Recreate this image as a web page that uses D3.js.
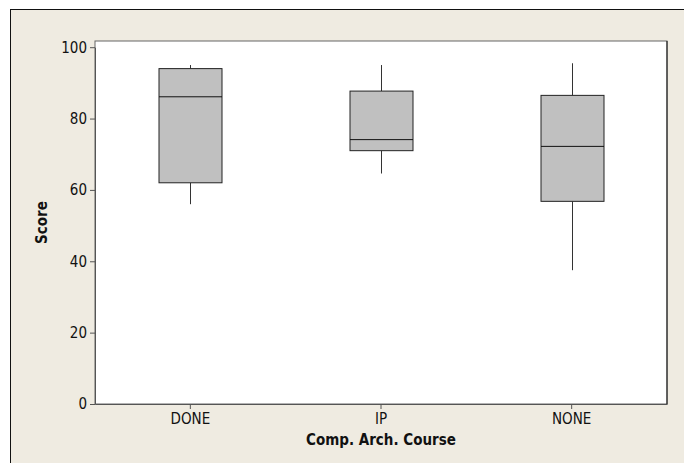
<!DOCTYPE html>
<html>
<head>
<meta charset="utf-8">
<script src="https://cdn.jsdelivr.net/npm/d3@7"></script>
<style>
  body { margin: 0; background: #fff; }
  text { font-family: "DejaVu Sans Condensed", sans-serif; fill: #111; }
</style>
</head>
<body>
<svg id="chart" width="684" height="463"></svg>
<script>
// groups and their five-number summaries
var courses = ["DONE", "IP", "NONE"];
var whiskerLow = [56, 64.6, 37.5];
var q1 = [62, 71, 56.8];
var median = [86.1, 74.1, 72.2];
var q3 = [94, 87.7, 86.5];
var whiskerHigh = [95, 95, 95.5];
var scoreTicks = [0, 20, 40, 60, 80, 100];

var svg = d3.select("#chart");

// the beige frame of the graph window
svg.append("rect")
    .attr("x", 10.5)
    .attr("y", 9.5)
    .attr("width", 700)
    .attr("height", 500)
    .attr("fill", "#efebe1")
    .attr("stroke", "#111");

var plotL = 95, plotT = 41, plotR = 667, plotB = 404;

var x = d3.scaleBand()
    .domain(courses)
    .range([plotL, plotR]);

var y = d3.scaleLinear()
    .domain([0, 100])
    .range([plotB, 47.2]);

// white data region
svg.append("rect")
    .attr("x", plotL)
    .attr("y", plotT)
    .attr("width", plotR - plotL)
    .attr("height", plotB - plotT)
    .attr("fill", "#fff")
    .attr("stroke", "#666")
    .attr("stroke-width", 1);

// darker right edge like the original
svg.append("line")
    .attr("x1", plotR).attr("x2", plotR)
    .attr("y1", plotT).attr("y2", plotB)
    .attr("stroke", "#111");

var boxes = courses.map(function(c, i) {
  return { name: c, lo: whiskerLow[i], q1: q1[i], med: median[i], q3: q3[i], hi: whiskerHigh[i] };
});

var boxW = 63;
var g = svg.append("g");

boxes.forEach(function(d) {
  var cx = Math.round(x(d.name) + x.bandwidth() / 2) + 0.5;
  // whiskers
  g.append("line")
      .attr("x1", cx).attr("x2", cx)
      .attr("y1", y(d.hi)).attr("y2", y(d.q3))
      .attr("stroke", "#333");
  g.append("line")
      .attr("x1", cx).attr("x2", cx)
      .attr("y1", y(d.q1)).attr("y2", y(d.lo))
      .attr("stroke", "#333");
  // box
  g.append("rect")
      .attr("x", cx - boxW / 2)
      .attr("y", y(d.q3))
      .attr("width", boxW)
      .attr("height", y(d.q1) - y(d.q3))
      .attr("fill", "#c0c0c0")
      .attr("stroke", "#222");
  // median
  g.append("line")
      .attr("x1", cx - boxW / 2).attr("x2", cx + boxW / 2)
      .attr("y1", y(d.med)).attr("y2", y(d.med))
      .attr("stroke", "#111");
});

// axes
var yAxis = svg.append("g")
    .attr("transform", "translate(" + plotL + ",0)")
    .call(d3.axisLeft(y).tickValues(scoreTicks).tickSize(5).tickSizeOuter(0).tickPadding(3));

var xAxis = svg.append("g")
    .attr("transform", "translate(0," + plotB + ")")
    .call(d3.axisBottom(x).tickSize(5).tickSizeOuter(0).tickPadding(4));

[yAxis, xAxis].forEach(function(a) {
  a.select(".domain").attr("stroke", "#555");
  a.selectAll(".tick line").attr("stroke", "#555");
  a.selectAll(".tick text")
      .attr("fill", "#111")
      .style("font-size", "15px")
      .style("font-family", "'DejaVu Sans Condensed', sans-serif");
});

// axis titles
svg.append("text")
    .attr("x", (plotL + plotR) / 2)
    .attr("y", 445)
    .attr("text-anchor", "middle")
    .style("font-size", "15px")
    .style("font-weight", "bold")
    .text("Comp. Arch. Course");

svg.append("text")
    .attr("transform", "translate(47," + ((plotT + plotB) / 2) + ") rotate(-90)")
    .attr("text-anchor", "middle")
    .style("font-size", "15px")
    .style("font-weight", "bold")
    .text("Score");
</script>
</body>
</html>
